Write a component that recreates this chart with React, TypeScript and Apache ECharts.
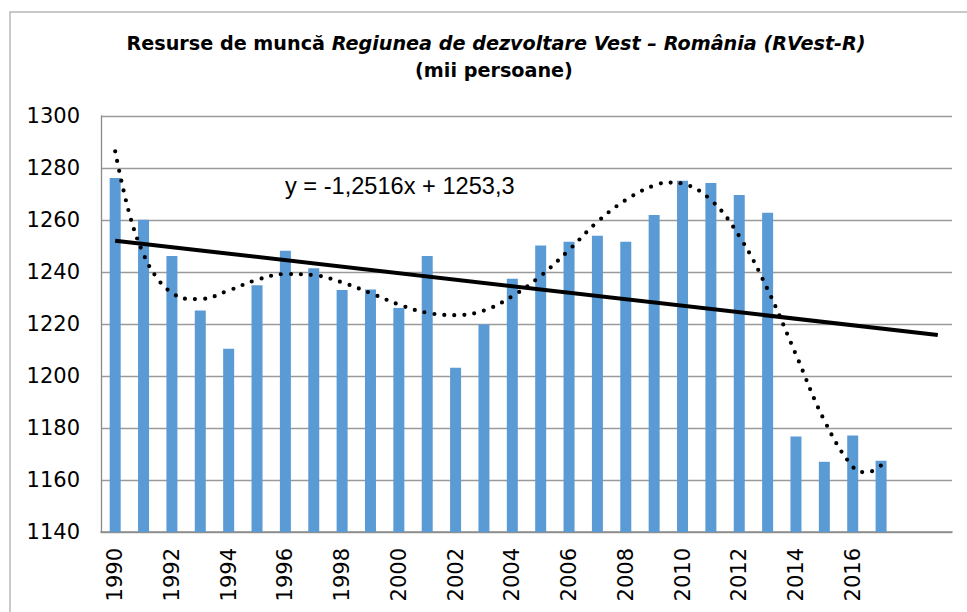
import React, { useEffect, useRef } from "react";
import * as echarts from "echarts";

// ---- data ----
const years = [
  "1990", "1991", "1992", "1993", "1994", "1995", "1996", "1997", "1998", "1999",
  "2000", "2001", "2002", "2003", "2004", "2005", "2006", "2007", "2008", "2009",
  "2010", "2011", "2012", "2013", "2014", "2015", "2016", "2017",
];
// two empty forecast slots (trend line forecast of 2 periods)
const forecastSlots = ["", ""];

const labourResources = [
  1276.2, 1260.1, 1246.2, 1225.2, 1210.5, 1234.9, 1248.2, 1241.4, 1233.1, 1233.3,
  1226.2, 1246.2, 1203.2, 1219.8, 1237.4, 1250.2, 1251.6, 1253.9, 1251.6, 1261.9,
  1275.1, 1274.2, 1269.6, 1262.8, 1176.7, 1167.0, 1177.1, 1167.4,
];

// linear trend as printed on the chart: y = -1,2516x + 1253,3
const linearSlope = -1.2516;
const linearIntercept = 1253.3;
const linearRange = [1, 30];
const equationText = "y = -1,2516x + 1253,3";

// polynomial (dotted) trend curve: [x index, value]
const polyTrend: [number, number][] = [
  [1, 1286.4], [1.5, 1262.4], [2, 1246.8], [2.5, 1237.3], [3, 1232.0], [3.5, 1229.7],
  [4, 1229.6], [5, 1232.9], [6, 1237.0], [7, 1239.2], [8, 1238.8], [9, 1236.0],
  [10, 1231.9], [11, 1227.5], [12, 1224.3], [13, 1223.4], [14, 1225.2], [15, 1230.7],
  [16, 1238.5], [17, 1248.5], [18, 1259.3], [19, 1267.7], [20, 1273.3], [20.6, 1274.4],
  [21, 1274.0], [22, 1267.7], [23, 1253.8], [24, 1233.3], [25, 1208.2], [26, 1182.9],
  [27, 1165.1], [27.5, 1162.9], [28, 1165.6],
];

const yMin = 1140;
const yMax = 1300;
const yStep = 20;

const titleMain = "Resurse de muncă ";
const titleItalic = "Regiunea de dezvoltare Vest – România (RVest-R)";
const titleSub = "(mii persoane)";

export default function App() {
  const ref = useRef<HTMLDivElement>(null);

  useEffect(() => {
    if (!ref.current) return;
    const chart = echarts.init(ref.current, undefined, { renderer: "svg" });
    const categories = [...years, ...forecastSlots];
    const linearData = linearRange.map((x) => [x, linearSlope * x + linearIntercept]);
    const axisFont = "'DejaVu Sans', Verdana, sans-serif";
    const titleFont = "'DejaVu Sans', Verdana, sans-serif";

    chart.setOption({
      animation: false,
      backgroundColor: "#ffffff",
      title: [
        {
          text: `{a|${titleMain}}{b|${titleItalic}}`,
          left: 496,
          top: 34,
          padding: 0,
          textAlign: "center",
          textStyle: {
            rich: {
              a: { fontFamily: titleFont, fontWeight: "bold", fontSize: 19.2, color: "#000" },
              b: { fontFamily: titleFont, fontWeight: "bold", fontStyle: "italic", fontSize: 19.2, color: "#000" },
            },
          },
        },
        {
          text: titleSub,
          left: 494,
          top: 61,
          padding: 0,
          textAlign: "center",
          textStyle: { fontFamily: titleFont, fontWeight: "bold", fontSize: 19.2, color: "#000" },
        },
      ],
      graphic: [
        {
          type: "rect",
          silent: true,
          shape: { x: 10, y: 12, width: 1000, height: 700 },
          style: { fill: "none", stroke: "#b8b8b8", lineWidth: 1.5 },
        },
        {
          type: "text",
          x: 285,
          y: 186,
          silent: true,
          style: {
            text: equationText,
            fontFamily: "'Liberation Sans', Arial, sans-serif",
            fontSize: 23.6,
            fill: "#000",
            verticalAlign: "middle",
          },
        },
      ],
      grid: { left: 101, right: 15, top: 116, bottom: 80, containLabel: false },
      xAxis: [
        {
          type: "category",
          data: categories,
          boundaryGap: true,
          axisLine: { show: true, lineStyle: { color: "#8a8a8a", width: 1.7 } },
          axisTick: { show: false },
          axisLabel: {
            interval: 1,
            rotate: 90,
            margin: 16,
            fontFamily: axisFont,
            fontSize: 21,
            color: "#000",
          },
          splitLine: { show: false },
        },
        {
          type: "value",
          min: 0.5,
          max: 30.5,
          show: false,
          splitLine: { show: false },
        },
      ],
      yAxis: {
        type: "value",
        min: yMin,
        max: yMax,
        interval: yStep,
        axisLine: { show: true, lineStyle: { color: "#8a8a8a", width: 1.3 } },
        axisTick: { show: false },
        axisLabel: {
          margin: 21,
          fontFamily: axisFont,
          fontSize: 21,
          color: "#000",
          formatter: (v: number) => String(v),
        },
        splitLine: { show: true, lineStyle: { color: "#9a9a9a", width: 1.3 } },
      },
      series: [
        {
          name: "Resurse de muncă",
          type: "bar",
          xAxisIndex: 0,
          data: labourResources,
          barWidth: 11,
          itemStyle: { color: "#5b9bd5" },
        },
        {
          name: "Trend polinomial",
          type: "line",
          xAxisIndex: 1,
          data: polyTrend,
          smooth: 0.4,
          showSymbol: false,
          symbol: "none",
          lineStyle: { color: "#000", width: 4.2, type: [0, 10], cap: "round" },
          z: 3,
        },
        {
          name: "Trend liniar",
          type: "line",
          xAxisIndex: 1,
          data: linearData,
          showSymbol: false,
          symbol: "none",
          lineStyle: { color: "#000", width: 4 },
          z: 4,
        },
      ],
    });
    return () => chart.dispose();
  }, []);

  return (
    <div
      ref={ref}
      style={{ position: "fixed", left: 0, top: 0, width: 967, height: 612, background: "#fff" }}
    />
  );
}
